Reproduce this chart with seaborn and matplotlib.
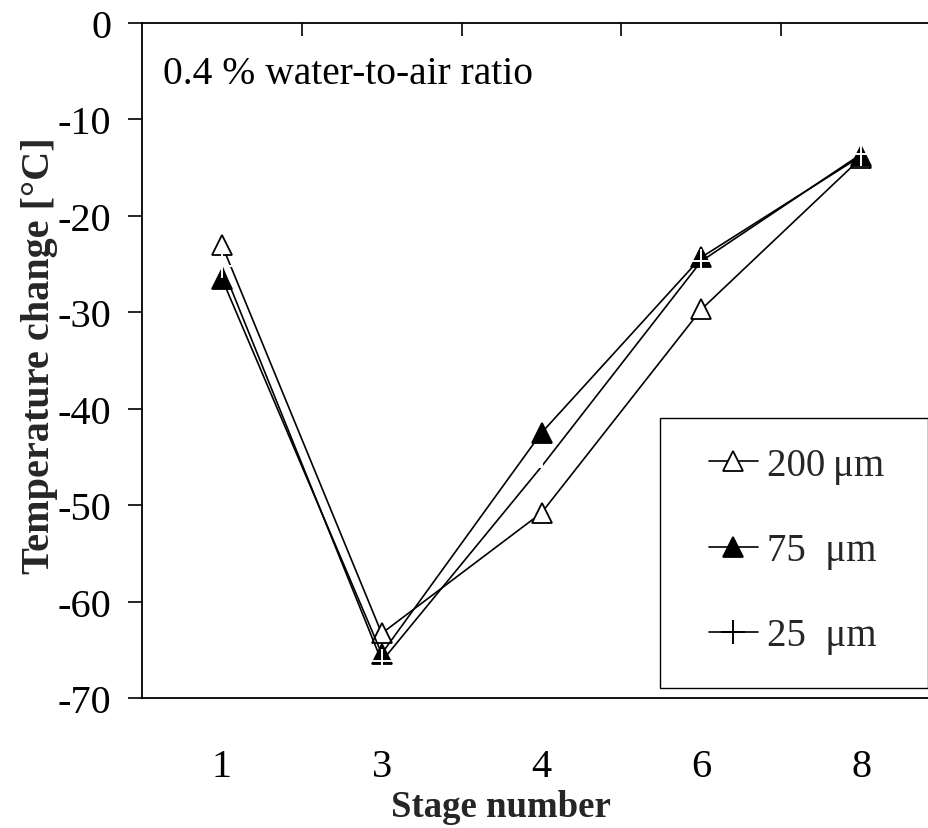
import matplotlib
matplotlib.use("Agg")
import matplotlib.pyplot as plt
import seaborn as sns
import pandas as pd
from matplotlib.lines import Line2D
from matplotlib.patches import Rectangle
from matplotlib.ticker import FixedLocator

stages = ["1", "3", "4", "6", "8"]
t_200 = [-23.0, -63.3, -50.8, -29.7, -14.0]
t_75 = [-26.5, -65.4, -42.5, -24.3, -13.8]
t_25 = [-25.2, -66.2, -46.0, -24.7, -13.6]
labels = ["200\u2009μm", "75  μm", "25  μm"]

sns.set_theme(style="white")
plt.rcParams['font.family'] = ['Liberation Serif', 'DejaVu Serif']
plt.rcParams['axes.unicode_minus'] = False

fig = plt.figure(figsize=(9.29, 8.29), dpi=100)
W, H = 929, 829
ax = fig.add_axes([142 / W, 1 - 699 / H, (941 - 142) / W, (699 - 24) / H])

pos = list(range(len(stages)))
df = pd.DataFrame({"pos": pos, "s200": t_200, "s75": t_75, "s25": t_25})

lw = 1.2
sns.lineplot(data=df, x="pos", y="s200", ax=ax, color="black", lw=lw, sort=False,
             marker="^", markersize=14, markerfacecolor="white", markeredgecolor="black",
             markeredgewidth=1.3, zorder=3)
sns.lineplot(data=df, x="pos", y="s75", ax=ax, color="black", lw=lw, sort=False,
             marker="^", markersize=14, markerfacecolor="black", markeredgecolor="black",
             markeredgewidth=1.3, zorder=3)
sns.lineplot(data=df, x="pos", y="s25", ax=ax, color="black", lw=lw, sort=False,
             marker="+", markersize=17, markeredgewidth=1.4, zorder=4)

ax.set_xlim(-0.5, len(stages) - 0.5)
ax.set_ylim(-70, 0)
ax.set_xlabel("")
ax.set_ylabel("")

for s in ["left", "bottom", "top"]:
    ax.spines[s].set_visible(True)
    ax.spines[s].set_color("black")
    ax.spines[s].set_linewidth(1.3)
ax.spines["right"].set_visible(False)

ax.set_xticks(pos)
ax.set_xticklabels(stages)
ax.xaxis.set_minor_locator(FixedLocator([p + 0.5 for p in pos[:-1]]))
ax.tick_params(axis="x", which="major", bottom=True, top=False, length=0, pad=36,
               labelsize=29, labelcolor="black")
ax.tick_params(axis="x", which="minor", bottom=False, top=True, direction="in",
               length=9, width=1.2, color="black")

ax.set_yticks(range(-70, 1, 10))
ax.tick_params(axis="y", which="major", left=True, direction="out", length=10, width=1.2,
               color="black", pad=12, labelsize=29, labelcolor="black")

fig.text(163 / W, 1 - 75 / H, "0.4 % water-to-air ratio",
         fontsize=28.5, ha="left", va="center", color="black")

fig.text(501 / W, 1 - 808 / H, "Stage number", fontsize=26.5, fontweight="bold",
         ha="center", va="center")
fig.text(40 / W, 1 - 356 / H, "Temperature change [°C]", fontsize=29, fontweight="bold",
         ha="center", va="center", rotation=90)

handles = [
    Line2D([], [], color="black", lw=lw, marker="^", markersize=14, markerfacecolor="white",
           markeredgecolor="black", markeredgewidth=1.3),
    Line2D([], [], color="black", lw=lw, marker="^", markersize=14, markerfacecolor="black",
           markeredgecolor="black", markeredgewidth=1.3),
    Line2D([], [], color="black", lw=lw, marker="+", markersize=17, markeredgewidth=1.4),
]
fig.patches.append(Rectangle((660 / W, 1 - 689 / H), (928 - 660) / W, (689 - 419) / H,
                             transform=fig.transFigure, facecolor="white",
                             edgecolor="black", linewidth=1.0, zorder=5))
leg = fig.legend(handles, labels, loc="upper left",
                 bbox_to_anchor=(709 / W, 1 - 448 / H), bbox_transform=fig.transFigure,
                 frameon=False, fontsize=28, handlelength=1.26, handletextpad=0.23,
                 labelspacing=1.24, borderpad=0, borderaxespad=0)
leg.set_zorder(6)

fig.savefig("out.png", dpi=100)
